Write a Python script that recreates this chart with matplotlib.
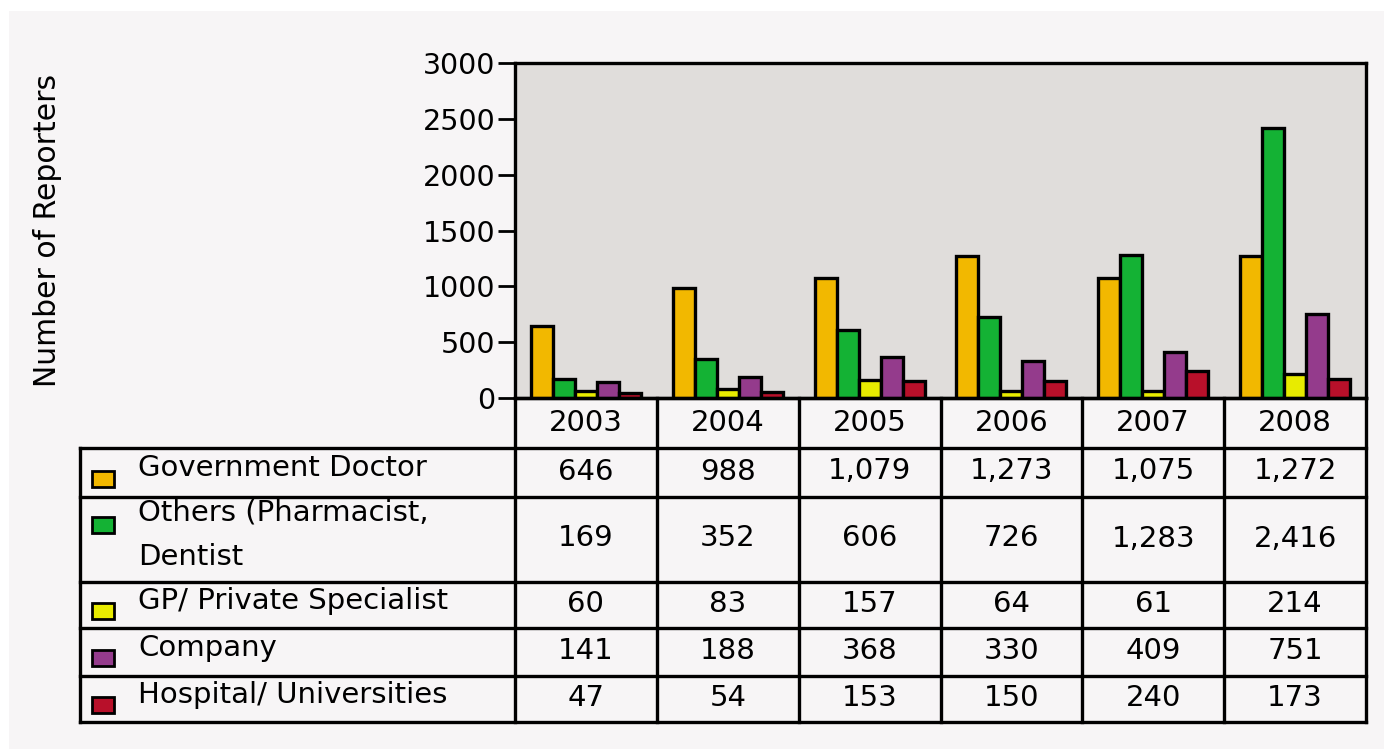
import matplotlib
matplotlib.use("Agg")

import matplotlib.pyplot as plt
from matplotlib.patches import Rectangle

# ----------------------------------------------------------------------
# data
# ----------------------------------------------------------------------
years = ["2003", "2004", "2005", "2006", "2007", "2008"]
series_names = [
    "Government Doctor",
    "Others (Pharmacist,\nDentist",
    "GP/ Private Specialist",
    "Company",
    "Hospital/ Universities",
]
gov_doctor = [646, 988, 1079, 1273, 1075, 1272]
others = [169, 352, 606, 726, 1283, 2416]
gp_private = [60, 83, 157, 64, 61, 214]
company = [141, 188, 368, 330, 409, 751]
hospital = [47, 54, 153, 150, 240, 173]
series_values = [gov_doctor, others, gp_private, company, hospital]
y_ticks = [0, 500, 1000, 1500, 2000, 2500, 3000]

COLORS = ["#f2b800", "#14b234", "#e8eb00", "#943b8c", "#b8102a"]
BG_OUTER = "#ffffff"
BG_INNER = "#f7f5f6"
BG_PLOT = "#e0dddb"
FONT = "DejaVu Sans"
FS_TICK = 20.5
FS_TAB = 21

# pixel layout
W, H = 1384, 749
AX_L, AX_R, AX_T, AX_B = 515, 1366, 63, 398
TAB_L = 80
ROW_EDGES = [398, 448, 497, 582, 628, 676, 722]
LW = 2.0

plt.rcParams["font.family"] = FONT

fig = plt.figure(figsize=(W / 100, H / 100), dpi=100, facecolor=BG_OUTER)

# light panel behind everything
fig.patches.append(Rectangle((9 / W, 0), 1 - 9 / W, 1 - 11 / H,
                             transform=fig.transFigure, facecolor=BG_INNER,
                             edgecolor="none", zorder=-10))

# ---- bar chart -------------------------------------------------------
ax = fig.add_axes([AX_L / W, 1 - AX_B / H, (AX_R - AX_L) / W, (AX_B - AX_T) / H])
ax.set_facecolor(BG_PLOT)

n_series = len(series_values)
bar_w = 0.155
for i, (vals, col) in enumerate(zip(series_values, COLORS)):
    offs = (i - (n_series - 1) / 2) * bar_w
    xs = [k + offs for k in range(len(years))]
    ax.bar(xs, vals, width=bar_w, color=col, edgecolor="black",
           linewidth=2.4, zorder=3)

ax.set_xlim(-0.5, len(years) - 0.5)
ax.set_ylim(0, 3000)
ax.set_yticks(y_ticks)
ax.set_yticklabels([str(v) for v in y_ticks], fontsize=FS_TICK)
ax.set_xticks([])
ax.tick_params(axis="y", length=12, width=LW, direction="out", pad=2)
for sp in ax.spines.values():
    sp.set_linewidth(LW * 1.2)
ax.set_ylabel("Number of Reporters", fontsize=21.5)
ax.yaxis.set_label_coords((48 - AX_L) / (AX_R - AX_L), 0.5)
ax.yaxis.label.set_va("center")

# ---- data table under the chart -------------------------------------
tab = fig.add_axes([0, 0, 1, 1], facecolor="none")
tab.set_xlim(0, W)
tab.set_ylim(H, 0)
tab.axis("off")

n_cols = len(years)
col_w = (AX_R - AX_L) / n_cols
col_edges = [AX_L + k * col_w for k in range(n_cols + 1)]

# horizontal rules
tab.plot([AX_L, AX_R], [ROW_EDGES[0]] * 2, color="black", lw=LW * 1.2)
for ye in ROW_EDGES[1:]:
    tab.plot([TAB_L, AX_R], [ye, ye], color="black", lw=LW * 1.2)
# vertical rules
for xe in col_edges:
    tab.plot([xe, xe], [ROW_EDGES[0], ROW_EDGES[-1]], color="black", lw=LW * 1.2)
tab.plot([TAB_L, TAB_L], [ROW_EDGES[1], ROW_EDGES[-1]], color="black", lw=LW * 1.2)

# header with years
for k, yr in enumerate(years):
    tab.text((col_edges[k] + col_edges[k + 1]) / 2, (ROW_EDGES[0] + ROW_EDGES[1]) / 2,
             yr, ha="center", va="center", fontsize=FS_TAB)

# series rows
for r, (name, vals, col) in enumerate(zip(series_names, series_values, COLORS)):
    top, bot = ROW_EDGES[r + 1], ROW_EDGES[r + 2]
    yc = (top + bot) / 2
    n_lines = name.count("\n") + 1
    label_y = yc - 4 if n_lines == 1 else yc - 5
    tab.text(138, label_y, name, ha="left", va="center", fontsize=FS_TAB,
             linespacing=1.75)
    sw_y = (label_y + 10) if n_lines == 1 else top + 28
    tab.add_patch(Rectangle((92, sw_y - 8), 22, 16, facecolor=col,
                            edgecolor="black", linewidth=LW))
    for k, v in enumerate(vals):
        tab.text((col_edges[k] + col_edges[k + 1]) / 2, yc - 1, f"{v:,}",
                 ha="center", va="center", fontsize=FS_TAB)

fig.savefig("out.png", dpi=100, facecolor=BG_OUTER)
